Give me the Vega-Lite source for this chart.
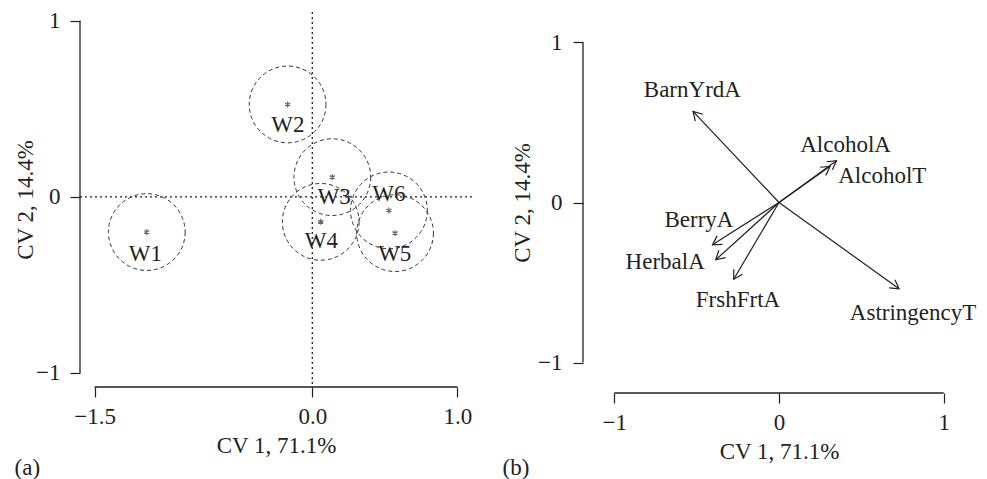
{
  "$schema": "https://vega.github.io/schema/vega-lite/v6.json",
  "background": "white",
  "padding": {"left": 14, "top": 9, "right": 5, "bottom": 5},
  "bounds": "flush",
  "spacing": 111,
  "config": {
    "font": "Liberation Serif",
    "view": {"stroke": null},
    "axis": {
      "domain": false,
      "grid": false,
      "ticks": true,
      "tickColor": "#231f20",
      "tickSize": 10,
      "tickWidth": 1.2,
      "labelFont": "Liberation Serif",
      "labelFontSize": 23,
      "labelColor": "#231f20",
      "labelFlush": false,
      "labelOverlap": false,
      "titleFont": "Liberation Serif",
      "titleFontSize": 23,
      "titleFontWeight": "normal",
      "titleColor": "#231f20"
    },
    "axisX": {"labelPadding": 8, "titlePadding": 6},
    "axisY": {"labelPadding": 10, "titlePadding": 0},
    "title": {"font": "Liberation Serif", "fontSize": 23, "fontWeight": "normal", "color": "#231f20"}
  },
  "hconcat": [
    {
      "width": 392,
      "height": 375,
      "title": {"text": "(a)", "orient": "bottom", "anchor": "start", "frame": "bounds", "offset": 0},
      "data": {"values": [
        {"wine": "W1", "x": -1.14, "y": -0.2, "lx": -1.15, "ly": -0.322},
        {"wine": "W2", "x": -0.17, "y": 0.525, "lx": -0.168, "ly": 0.411},
        {"wine": "W3", "x": 0.138, "y": 0.112, "lx": 0.15, "ly": -0.003},
        {"wine": "W4", "x": 0.058, "y": -0.142, "lx": 0.062, "ly": -0.249},
        {"wine": "W5", "x": 0.57, "y": -0.206, "lx": 0.568, "ly": -0.325},
        {"wine": "W6", "x": 0.528, "y": -0.077, "lx": 0.528, "ly": 0.016}
      ]},
      "layer": [
        {
          "mark": {"type": "point", "shape": "circle", "filled": false, "size": 5890, "stroke": "#333333", "strokeWidth": 1, "strokeDash": [4, 3], "opacity": 1},
          "encoding": {
            "x": {"field": "x", "type": "quantitative", "scale": {"domain": [-1.6, 1.1], "nice": false, "zero": false},
                  "axis": {"values": [-1.5, 0, 1], "format": ".1f", "title": "CV 1, 71.1%"}},
            "y": {"field": "y", "type": "quantitative", "scale": {"domain": [-1.08, 1.05], "nice": false, "zero": false},
                  "axis": {"values": [-1, 0, 1], "format": "d", "title": "CV 2, 14.4%", "titlePadding": -2}}
          }
        },
        {
          "data": {"values": [{}]},
          "mark": {"type": "rule", "stroke": "#231f20", "strokeWidth": 1.3, "strokeDash": [2, 3]},
          "encoding": {"y": {"datum": 0, "type": "quantitative", "scale": {"domain": [-1.08, 1.05], "nice": false, "zero": false},
                  "axis": {"values": [-1, 0, 1], "format": "d", "title": "CV 2, 14.4%", "titlePadding": -2}}}
        },
        {
          "data": {"values": [{}]},
          "mark": {"type": "rule", "stroke": "#231f20", "strokeWidth": 1.3, "strokeDash": [2, 3]},
          "encoding": {"x": {"datum": 0, "type": "quantitative", "scale": {"domain": [-1.6, 1.1], "nice": false, "zero": false},
                  "axis": {"values": [-1.5, 0, 1], "format": ".1f", "title": "CV 1, 71.1%"}}}
        },
        {
          "data": {"values": [{}]},
          "mark": {"type": "rule", "stroke": "#231f20", "strokeWidth": 1.3},
          "encoding": {
            "x": {"datum": -1.5, "type": "quantitative", "scale": {"domain": [-1.6, 1.1], "nice": false, "zero": false},
                  "axis": {"values": [-1.5, 0, 1], "format": ".1f", "title": "CV 1, 71.1%"}},
            "x2": {"datum": 1.0},
            "y": {"datum": -1.08, "type": "quantitative", "scale": {"domain": [-1.08, 1.05], "nice": false, "zero": false},
                  "axis": {"values": [-1, 0, 1], "format": "d", "title": "CV 2, 14.4%", "titlePadding": -2}}
          }
        },
        {
          "data": {"values": [{}]},
          "mark": {"type": "rule", "stroke": "#231f20", "strokeWidth": 1.3},
          "encoding": {
            "y": {"datum": -1, "type": "quantitative", "scale": {"domain": [-1.08, 1.05], "nice": false, "zero": false},
                  "axis": {"values": [-1, 0, 1], "format": "d", "title": "CV 2, 14.4%", "titlePadding": -2}},
            "y2": {"datum": 1},
            "x": {"datum": -1.6, "type": "quantitative", "scale": {"domain": [-1.6, 1.1], "nice": false, "zero": false},
                  "axis": {"values": [-1.5, 0, 1], "format": ".1f", "title": "CV 1, 71.1%"}}
          }
        },
        {
          "mark": {"type": "point", "shape": "M0,-1L0,1M-0.866,-0.5L0.866,0.5M-0.866,0.5L0.866,-0.5", "filled": false, "size": 36, "stroke": "#666666", "strokeWidth": 1.2, "opacity": 1},
          "encoding": {
            "x": {"field": "x", "type": "quantitative", "scale": {"domain": [-1.6, 1.1], "nice": false, "zero": false},
                  "axis": {"values": [-1.5, 0, 1], "format": ".1f", "title": "CV 1, 71.1%"}},
            "y": {"field": "y", "type": "quantitative", "scale": {"domain": [-1.08, 1.05], "nice": false, "zero": false},
                  "axis": {"values": [-1, 0, 1], "format": "d", "title": "CV 2, 14.4%", "titlePadding": -2}}
          }
        },
        {
          "mark": {"type": "text", "fontSize": 23, "font": "Liberation Serif", "color": "#231f20", "align": "center", "baseline": "middle"},
          "encoding": {
            "x": {"field": "lx", "type": "quantitative", "scale": {"domain": [-1.6, 1.1], "nice": false, "zero": false},
                  "axis": {"values": [-1.5, 0, 1], "format": ".1f", "title": "CV 1, 71.1%"}},
            "y": {"field": "ly", "type": "quantitative", "scale": {"domain": [-1.08, 1.05], "nice": false, "zero": false},
                  "axis": {"values": [-1, 0, 1], "format": "d", "title": "CV 2, 14.4%", "titlePadding": -2}},
            "text": {"field": "wine"}
          }
        }
      ]
    },
    {
      "width": 392,
      "height": 381,
      "title": {"text": "(b)", "orient": "bottom", "anchor": "start", "frame": "bounds", "offset": -6, "dx": -9},
      "data": {"values": [
        {"attr": "BarnYrdA", "x": -0.522, "y": 0.569, "lx": -0.526, "ly": 0.704},
        {"attr": "AlcoholA", "x": 0.349, "y": 0.261, "lx": 0.404, "ly": 0.361},
        {"attr": "AlcoholT", "x": 0.31, "y": 0.226, "lx": 0.627, "ly": 0.1625},
        {"attr": "BerryA", "x": -0.404, "y": -0.264, "lx": -0.486, "ly": -0.108},
        {"attr": "HerbalA", "x": -0.384, "y": -0.358, "lx": -0.691, "ly": -0.369},
        {"attr": "FrshFrtA", "x": -0.275, "y": -0.479, "lx": -0.249, "ly": -0.608},
        {"attr": "AstringencyT", "x": 0.729, "y": -0.539, "lx": 0.814, "ly": -0.692}
      ]},
      "layer": [
        {
          "mark": {"type": "rule", "stroke": "#231f20", "strokeWidth": 1.2},
          "encoding": {
            "x": {"field": "x", "type": "quantitative", "scale": {"domain": [-1.19, 1.19], "nice": false, "zero": false},
                  "axis": {"values": [-1, 0, 1], "format": "d", "title": "CV 1, 71.1%"}},
            "y": {"field": "y", "type": "quantitative", "scale": {"domain": [-1.19, 1.19], "nice": false, "zero": false},
                  "axis": {"values": [-1, 0, 1], "format": "d", "title": "CV 2, 14.4%", "labelPadding": 11, "titlePadding": 3}},
            "x2": {"datum": 0},
            "y2": {"datum": 0}
          }
        },
        {
          "data": {"values": [{}]},
          "mark": {"type": "rule", "stroke": "#231f20", "strokeWidth": 1.3},
          "encoding": {
            "x": {"datum": -1, "type": "quantitative", "scale": {"domain": [-1.19, 1.19], "nice": false, "zero": false},
                  "axis": {"values": [-1, 0, 1], "format": "d", "title": "CV 1, 71.1%"}},
            "x2": {"datum": 1},
            "y": {"datum": -1.19, "type": "quantitative", "scale": {"domain": [-1.19, 1.19], "nice": false, "zero": false},
                  "axis": {"values": [-1, 0, 1], "format": "d", "title": "CV 2, 14.4%", "labelPadding": 11, "titlePadding": 3}}
          }
        },
        {
          "data": {"values": [{}]},
          "mark": {"type": "rule", "stroke": "#231f20", "strokeWidth": 1.3},
          "encoding": {
            "y": {"datum": -1, "type": "quantitative", "scale": {"domain": [-1.19, 1.19], "nice": false, "zero": false},
                  "axis": {"values": [-1, 0, 1], "format": "d", "title": "CV 2, 14.4%", "labelPadding": 11, "titlePadding": 3}},
            "y2": {"datum": 1},
            "x": {"datum": -1.19, "type": "quantitative", "scale": {"domain": [-1.19, 1.19], "nice": false, "zero": false},
                  "axis": {"values": [-1, 0, 1], "format": "d", "title": "CV 1, 71.1%"}}
          }
        },
        {
          "transform": [{"calculate": "atan2(datum.x * 164.7, datum.y * 160) * 180 / PI", "as": "angle"}],
          "mark": {"type": "point", "shape": "M-0.5,0.866L0,0L0.5,0.866", "filled": false, "size": 400, "stroke": "#231f20", "strokeWidth": 1.2, "opacity": 1},
          "encoding": {
            "x": {"field": "x", "type": "quantitative", "scale": {"domain": [-1.19, 1.19], "nice": false, "zero": false},
                  "axis": {"values": [-1, 0, 1], "format": "d", "title": "CV 1, 71.1%"}},
            "y": {"field": "y", "type": "quantitative", "scale": {"domain": [-1.19, 1.19], "nice": false, "zero": false},
                  "axis": {"values": [-1, 0, 1], "format": "d", "title": "CV 2, 14.4%", "labelPadding": 11, "titlePadding": 3}},
            "angle": {"field": "angle", "type": "quantitative", "scale": null}
          }
        },
        {
          "mark": {"type": "text", "fontSize": 23, "font": "Liberation Serif", "color": "#231f20", "align": "center", "baseline": "middle"},
          "encoding": {
            "x": {"field": "lx", "type": "quantitative", "scale": {"domain": [-1.19, 1.19], "nice": false, "zero": false},
                  "axis": {"values": [-1, 0, 1], "format": "d", "title": "CV 1, 71.1%"}},
            "y": {"field": "ly", "type": "quantitative", "scale": {"domain": [-1.19, 1.19], "nice": false, "zero": false},
                  "axis": {"values": [-1, 0, 1], "format": "d", "title": "CV 2, 14.4%", "labelPadding": 11, "titlePadding": 3}},
            "text": {"field": "attr"}
          }
        }
      ]
    }
  ]
}
